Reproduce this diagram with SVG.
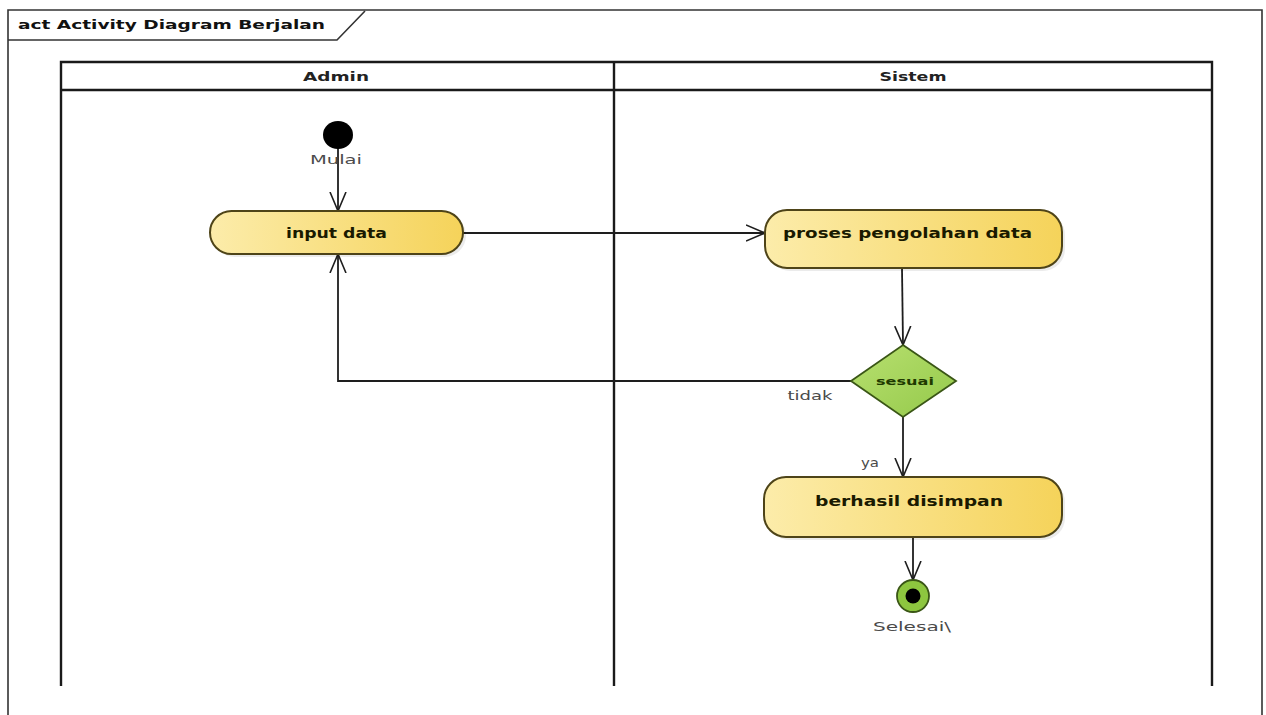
<svg xmlns="http://www.w3.org/2000/svg" width="1266" height="715" viewBox="0 0 1266 715">
  <style>
    .frame { fill: none; stroke: #333; stroke-width: 1.6; }
    .lane { fill: none; stroke: #1a1a1a; stroke-width: 2.4; }
    .hdr { font-family: "DejaVu Sans", Verdana, sans-serif; font-size: 13px; font-weight: bold; fill: #222; text-anchor: middle; }
    .title { font-family: "DejaVu Sans", Verdana, sans-serif; font-size: 13px; font-weight: bold; fill: #111; }
    .act { fill: url(#actFill); stroke: #4e4418; stroke-width: 2; }
    .actText { font-family: "DejaVu Sans", Verdana, sans-serif; font-size: 13.5px; font-weight: bold; fill: #1a1a00; text-anchor: middle; dominant-baseline: central; }
    .lbl { font-family: "DejaVu Sans", Verdana, sans-serif; font-size: 13px; fill: #4a4a4a; text-anchor: middle; }
    .flow { fill: none; stroke: #1e1e1e; stroke-width: 1.8; }
    .shadow { fill: #000; opacity: 0.08; }
  </style>
  <defs>
    <linearGradient id="actFill" x1="0" y1="0" x2="1" y2="0">
      <stop offset="0" stop-color="#fcecaa"/>
      <stop offset="1" stop-color="#f5d35a"/>
    </linearGradient>
    <linearGradient id="decFill" x1="0" y1="0" x2="1" y2="1">
      <stop offset="0" stop-color="#b8e070"/>
      <stop offset="1" stop-color="#94c94a"/>
    </linearGradient>
    <marker id="open" viewBox="0 0 20 18" refX="19" refY="9" markerWidth="20" markerHeight="18" markerUnits="userSpaceOnUse" orient="auto">
      <path d="M0,1 L19,9 L0,17" fill="none" stroke="#1e1e1e" stroke-width="1.6"/>
    </marker>
  </defs>

  <rect width="1266" height="715" fill="#fff"/>

  <!-- diagram frame with title tab -->
  <g id="frame">
    <path class="frame" d="M8,715 L8,10 L1262,10 L1262,715"/>
    <path class="frame" d="M8,40 L337,40 L365,11"/>
    <text class="title" x="18" y="29" textLength="307" lengthAdjust="spacingAndGlyphs">act Activity Diagram Berjalan</text>
  </g>

  <!-- swimlanes -->
  <g id="lanes">
    <path class="lane" d="M61,686 L61,62 L1212,62 L1212,686"/>
    <line class="lane" x1="61" y1="90" x2="1212" y2="90"/>
    <line class="lane" x1="614" y1="62" x2="614" y2="686"/>
    <text class="hdr" x="336" y="81" textLength="66" lengthAdjust="spacingAndGlyphs">Admin</text>
    <text class="hdr" x="913" y="81" textLength="67" lengthAdjust="spacingAndGlyphs">Sistem</text>
  </g>

  <!-- control flows -->
  <g id="connectors">
    <line class="flow" x1="338" y1="148" x2="338" y2="211" marker-end="url(#open)"/>
    <line class="flow" x1="463" y1="233" x2="765" y2="233" marker-end="url(#open)"/>
    <line class="flow" x1="902" y1="268" x2="903" y2="345" marker-end="url(#open)"/>
    <polyline class="flow" points="851,381 338,381 338,254" marker-end="url(#open)"/>
    <line class="flow" x1="903" y1="417" x2="903" y2="477" marker-end="url(#open)"/>
    <line class="flow" x1="913" y1="537" x2="913" y2="580" marker-end="url(#open)"/>
    <text class="lbl" x="810" y="400" textLength="45" lengthAdjust="spacingAndGlyphs">tidak</text>
    <text class="lbl" x="870" y="467" textLength="18" lengthAdjust="spacingAndGlyphs">ya</text>
  </g>

  <g id="start">
    <ellipse cx="338" cy="135" rx="15" ry="14" fill="#000"/>
    <text class="lbl" x="336" y="164" textLength="52" lengthAdjust="spacingAndGlyphs">Mulai</text>
  </g>

  <g id="input-data">
    <rect class="shadow" x="213" y="214" width="253" height="43" rx="21.5"/>
    <rect class="act" x="210" y="211" width="253" height="43" rx="21.5"/>
    <text class="actText" x="336.5" y="233" textLength="101" lengthAdjust="spacingAndGlyphs">input data</text>
  </g>

  <g id="proses-pengolahan-data">
    <rect class="shadow" x="768" y="213" width="297" height="58" rx="22"/>
    <rect class="act" x="765" y="210" width="297" height="58" rx="22"/>
    <text class="actText" x="907.5" y="233" textLength="249" lengthAdjust="spacingAndGlyphs">proses pengolahan data</text>
  </g>

  <g id="sesuai">
    <polygon points="903,345 956,381 903,417 851,381" fill="url(#decFill)" stroke="#3a5616" stroke-width="1.8"/>
    <text class="actText" x="905" y="381" textLength="58" lengthAdjust="spacingAndGlyphs" style="font-size:11px; fill:#1e3a00">sesuai</text>
  </g>

  <g id="berhasil-disimpan">
    <rect class="shadow" x="767" y="480" width="298" height="60" rx="22"/>
    <rect class="act" x="764" y="477" width="298" height="60" rx="22"/>
    <text class="actText" x="909" y="501" textLength="188" lengthAdjust="spacingAndGlyphs">berhasil disimpan</text>
  </g>

  <g id="end">
    <circle cx="913" cy="596" r="16" fill="#8dc63f" stroke="#3a5616" stroke-width="1.8"/>
    <circle cx="913" cy="596" r="7.5" fill="#000"/>
    <text class="lbl" x="912" y="631" textLength="78" lengthAdjust="spacingAndGlyphs">Selesai\</text>
  </g>
</svg>
